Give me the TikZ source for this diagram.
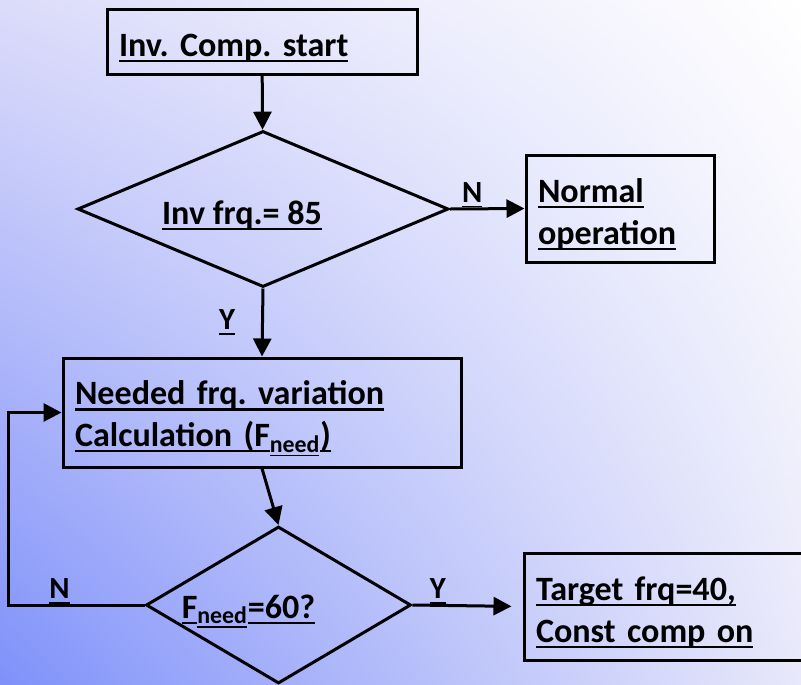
\documentclass[tikz,border=0pt]{standalone}
\usepackage{fontspec}
\setmainfont{Carlito}
\usetikzlibrary{shapes.geometric,arrows.meta,shadings}
\newlength\px
\setlength\px{0.02cm}
\frenchspacing
% underline at a fixed depth, like the slide's
\newcommand\ul[1]{\leavevmode\setbox0\hbox{#1}\rlap{\rule[-0.17em]{\wd0}{0.06em}}\box0}
% strut that lowers the text a little in its shape
\newcommand\dn{\rule{0pt}{1.05em}}
% text of a decision, set left of the diamond's centre by #1
\newcommand\offleft[2]{\hbox to 0pt{\hss\dn#2\hss}\hspace*{#1}}
\definecolor{bgll}{RGB}{127,145,250}
\definecolor{bgul}{RGB}{220,220,250}
\definecolor{bglr}{RGB}{232,232,250}
\begin{document}
\begin{tikzpicture}[x=0.02cm, y=-0.02cm,
    box/.style={draw, line width=3\px, align=left, inner xsep=12\px, inner ysep=4\px,
      font=\bfseries\fontsize{19.4}{23.8}\selectfont},
    decision/.style={draw, diamond, line width=3\px, inner sep=0pt, aspect=2,
      font=\bfseries\fontsize{19.4}{23.8}\selectfont},
    flow/.style={line width=3\px, -{Triangle[length=0.36cm,width=0.36cm]}},
    flowlabel/.style={font=\bfseries\fontsize{17.5}{21}\selectfont, inner sep=0pt}]
  % background
  \useasboundingbox (0,0) rectangle (801,684);
  \clip (0,0) rectangle (801,684);
  \shade[lower left=bgll, upper left=bgul, lower right=bglr, upper right=white]
    (0,0) rectangle (801,684);
  % the steps
  \node[box, minimum width=310\px, minimum height=65\px, text width=286\px]
    (start) at (262,41.5) {\dn\ul{Inv. Comp. start}};
  \node[decision, minimum width=371\px, minimum height=156\px]
    (invfrq) at (263,209) {\offleft{42\px}{\ul{Inv frq.= 85}}};
  \node[box, minimum width=188\px, minimum height=107\px, text width=164\px]
    (normal) at (620,208.5) {\dn\ul{Normal}\\\ul{operation}};
  \node[box, minimum width=398\px, minimum height=109\px, text width=374\px]
    (calc) at (262,412.5)
    {\dn\ul{Needed frq. variation}\\\ul{Calculation (F}\textsubscript{\ul{need}}\ul{)}};
  \node[decision, minimum width=265\px, minimum height=157\px]
    (fneed) at (278.5,605) {\offleft{60\px}{\ul{F}\textsubscript{\ul{need}}\ul{=60?}}};
  \node[box, minimum width=280\px, minimum height=107\px, text width=256\px]
    (target) at (664,606.5) {\dn\ul{Target frq=40,}\\\ul{Const comp on}};
  % the connectors
  \draw[flow] (start) -- (invfrq);
  \draw[flow] (invfrq.east) -- node[flowlabel, pos=0.3, anchor=south] (nlab1) {\ul{N}} (normal.west);
  \draw[flow] (invfrq.south) -- node[flowlabel, anchor=east, xshift=-26\px] (ylab1) {\ul{Y}} (calc.north);
  \draw[flow] (calc.south) -- (fneed.north);
  \draw[flow, shorten >=11\px] (fneed.east) -- node[flowlabel, pos=0.23, anchor=south] (ylab2) {\ul{Y}} (target.west);
  \draw[flow] (fneed.west) -- node[flowlabel, pos=0.625, anchor=south] (nlab2) {\ul{N}} ++(-136,0) |- (calc.west);
\end{tikzpicture}
\end{document}
